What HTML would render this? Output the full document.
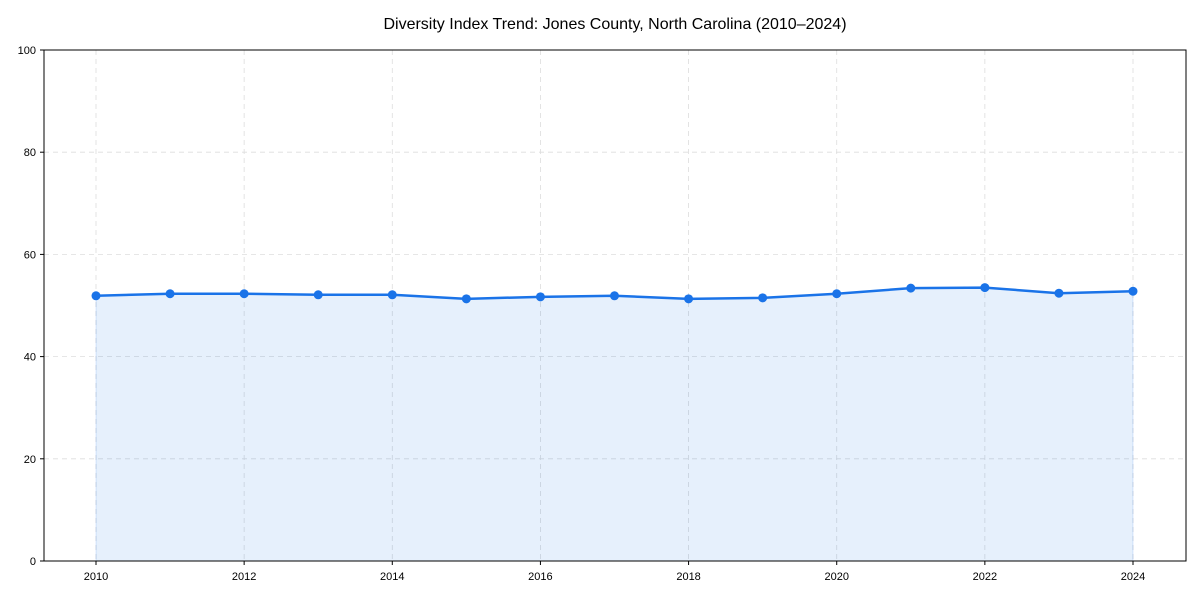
<!DOCTYPE html>
<html><head><meta charset="utf-8"><style>
html,body{margin:0;padding:0;background:#fff;}
svg{display:block;font-family:"Liberation Sans",Arial,sans-serif;}
</style></head><body>
<svg id="chart" width="1200" height="600">
<text x="615" y="29" text-anchor="middle" font-size="16" fill="#000">Diversity Index Trend: Jones County, North Carolina (2010–2024)</text>
<g id="grid"></g>
<g id="area"></g>
<g id="series"></g>
<rect x="44" y="50" width="1142" height="511" fill="none" stroke="#000" stroke-width="1"/>
<g id="axes"></g>
</svg>
<script>
const years = [2010,2011,2012,2013,2014,2015,2016,2017,2018,2019,2020,2021,2022,2023,2024];
const values = [51.9,52.3,52.3,52.1,52.1,51.3,51.7,51.9,51.3,51.5,52.3,53.4,53.5,52.4,52.8];
const xTicks = [2010,2012,2014,2016,2018,2020,2022,2024];
const yTicks = [0,20,40,60,80,100];

const NS="http://www.w3.org/2000/svg";
const X0=44,X1=1186,Y0=561,Y1=50;
function xs(v){return 96+(v-2010)*(1133-96)/14;}
function ys(v){return Y0-(v/100)*(Y0-Y1);}
function mk(tag,attrs,parent){const e=document.createElementNS(NS,tag);for(const k in attrs)e.setAttribute(k,attrs[k]);parent.appendChild(e);return e;}
const grid=document.getElementById('grid'),axes=document.getElementById('axes'),area=document.getElementById('area'),series=document.getElementById('series');

xTicks.forEach(t=>{
  const x=xs(t);
  const g=mk('line',{x1:x,x2:x,y1:Y1,y2:Y0,stroke:'#ddd','stroke-dasharray':'5,4','stroke-width':0.8},grid);
  
  
  mk('line',{x1:x,x2:x,y1:Y0,y2:Y0+4,stroke:'#000'},axes);
  const l=mk('text',{x:x,y:Y0+19,'text-anchor':'middle','font-size':11,fill:'#000'},axes);
  l.textContent=t;
  
  
});
yTicks.forEach(t=>{
  const y=ys(t);
  if(t>0&&t<100){
    const g=mk('line',{x1:X0,x2:X1,y1:y,y2:y,stroke:'#ddd','stroke-dasharray':'5,4','stroke-width':0.8},grid);
    
    
  }
  mk('line',{x1:X0-4,x2:X0,y1:y,y2:y,stroke:'#000'},axes);
  const l=mk('text',{x:X0-8,y:y+4,'text-anchor':'end','font-size':11,fill:'#000'},axes);
  l.textContent=t;
  
  
});

let d='M'+xs(years[0])+','+ys(0);
years.forEach((yr,i)=>{d+=' L'+xs(yr)+','+ys(values[i]);});
d+=' L'+xs(years[years.length-1])+','+ys(0)+' Z';
const a=mk('path',{d:d,fill:'#1a73e8','fill-opacity':0.11,stroke:'#1a73e8','stroke-opacity':0.15},area);



const pts=years.map((yr,i)=>xs(yr)+','+ys(values[i])).join(' ');
const ln=mk('polyline',{points:pts,fill:'none',stroke:'#1a73e8','stroke-width':2.5},series);


years.forEach((yr,i)=>{
  const c=mk('circle',{cx:xs(yr),cy:ys(values[i]),r:4.5,fill:'#1a73e8'},series);
  
  
});
</script>
</body></html>
